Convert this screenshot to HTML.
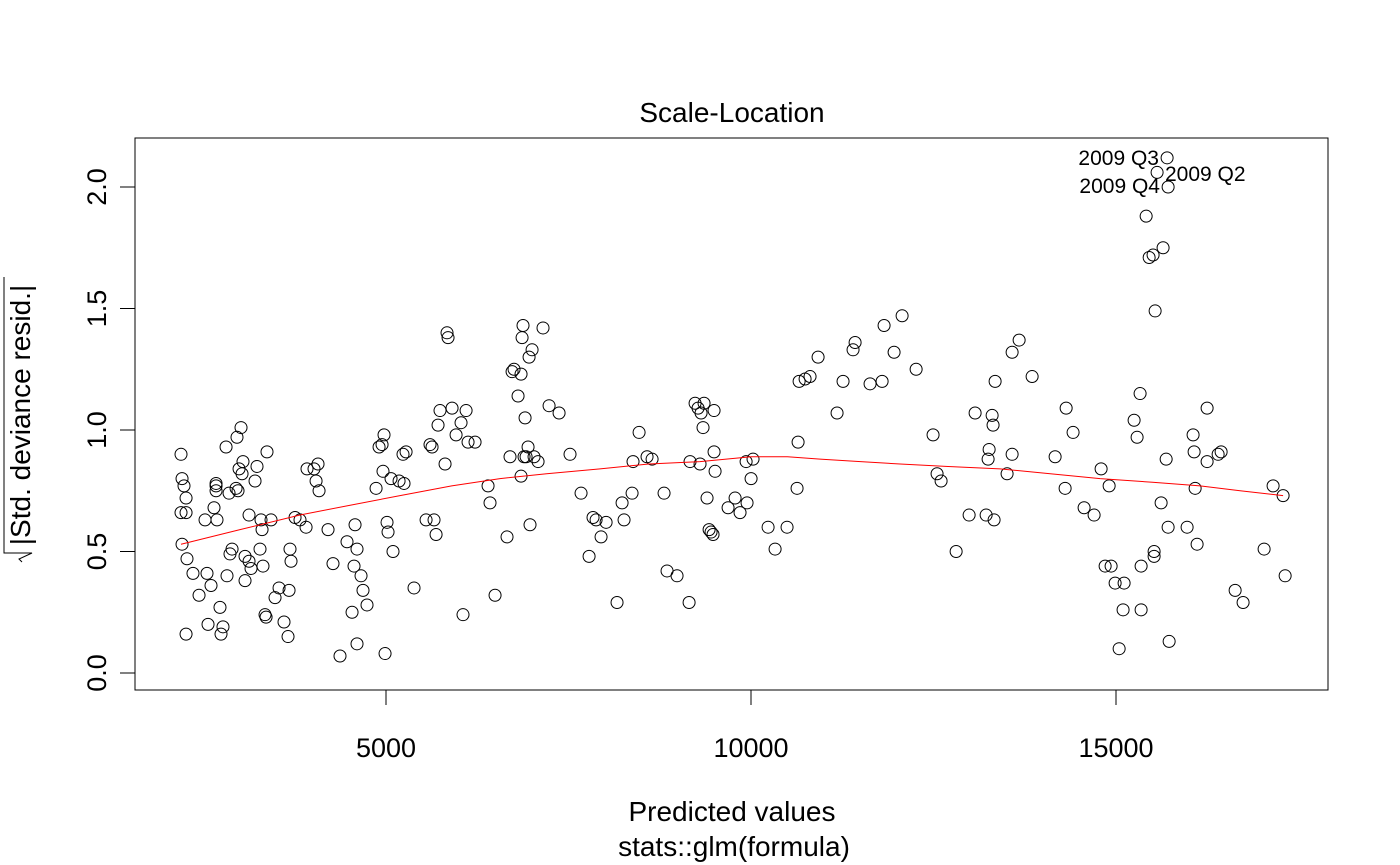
<!DOCTYPE html>
<html><head><meta charset="utf-8"><style>
html,body{margin:0;padding:0;background:#fff;}
svg{display:block;font-family:"Liberation Sans",Arial,sans-serif;}
</style></head><body>
<svg id="chart" width="1400" height="865" viewBox="0 0 1400 865">
<rect x="135" y="138" width="1193" height="552" fill="none" stroke="#000" stroke-width="1"/>
<text x="732" y="122" font-size="28" text-anchor="middle">Scale-Location</text>
<text x="732" y="821" font-size="28" text-anchor="middle">Predicted values</text>
<text x="734" y="856" font-size="28" text-anchor="middle">stats::glm(formula)</text>
<g transform="translate(30,415) rotate(-90)">
<text x="0" y="0" font-size="28" text-anchor="middle">|Std. deviance resid.|</text>
<path d="M-147,-8 L-144,-11 L-138,2 L-138,-26 L138,-26" fill="none" stroke="#000" stroke-width="1"/>
</g>
<g id="xaxis"></g>
<g id="yaxis"></g>
<g id="points"></g>
<g id="smooth"></g>
<g font-size="21">
<text x="1159" y="165" text-anchor="end">2009 Q3</text>
<text x="1165" y="181" text-anchor="start">2009 Q2</text>
<text x="1160" y="193" text-anchor="end">2009 Q4</text>
</g>
</svg>
<script>
const predicted = [2192,2206,2233,2192,2206,2261,2261,2274,2261,2356,2439,2521,2548,2562,2603,2644,2672,2672,2685,2672,2726,2740,2767,2809,2822,2850,2863,2891,2946,2959,2973,2987,3014,3028,3041,3069,3069,3124,3124,3151,3206,3233,3274,3288,3302,3315,3343,3357,3370,3425,3480,3535,3603,3658,3672,3685,3699,3754,3822,3905,3918,4014,4042,4069,4083,4206,4274,4370,4466,4535,4562,4576,4603,4603,4658,4685,4740,4864,4905,4946,4959,4973,4987,5014,5028,5069,5096,5179,5233,5247,5275,5384,5549,5603,5631,5658,5686,5713,5740,5809,5836,5850,5905,5960,6028,6055,6097,6124,6220,6398,6425,6494,6658,6699,6727,6754,6809,6850,6850,6864,6877,6891,6905,6919,6946,6960,6973,7001,7028,7083,7151,7234,7371,7521,7672,7782,7836,7878,7946,8015,8165,8234,8261,8371,8384,8467,8576,8645,8809,8850,8987,9152,9165,9234,9275,9302,9316,9343,9357,9398,9426,9453,9480,9494,9494,9508,9686,9782,9850,9933,9946,10001,10028,10234,10330,10494,10631,10645,10659,10741,10809,10919,11179,11261,11398,11426,11631,11796,11823,11960,12070,12262,12494,12549,12604,12810,12988,13070,13221,13248,13262,13303,13316,13330,13344,13508,13577,13577,13673,13851,14166,14303,14317,14412,14563,14700,14796,14851,14906,14933,14988,15043,15097,15111,15248,15289,15330,15344,15344,15413,15454,15508,15522,15522,15536,15563,15618,15645,15687,15700,15714,15714,15728,15974,16056,16070,16084,16111,16248,16248,16399,16440,16632,16741,17029,17152,17289,17317];
const sqrtResid = [0.90,0.80,0.77,0.66,0.53,0.72,0.66,0.47,0.16,0.41,0.32,0.63,0.41,0.20,0.36,0.68,0.78,0.77,0.63,0.75,0.27,0.16,0.19,0.93,0.40,0.74,0.49,0.51,0.76,0.97,0.75,0.84,1.01,0.82,0.87,0.38,0.48,0.65,0.46,0.43,0.79,0.85,0.51,0.63,0.59,0.44,0.24,0.23,0.91,0.63,0.31,0.35,0.21,0.15,0.34,0.51,0.46,0.64,0.63,0.60,0.84,0.84,0.79,0.86,0.75,0.59,0.45,0.07,0.54,0.25,0.44,0.61,0.51,0.12,0.40,0.34,0.28,0.76,0.93,0.94,0.83,0.98,0.08,0.62,0.58,0.80,0.50,0.79,0.90,0.78,0.91,0.35,0.63,0.94,0.93,0.63,0.57,1.02,1.08,0.86,1.40,1.38,1.09,0.98,1.03,0.24,1.08,0.95,0.95,0.77,0.70,0.32,0.56,0.89,1.24,1.25,1.14,1.23,0.81,1.38,1.43,0.89,1.05,0.89,0.93,1.30,0.61,1.33,0.89,0.87,1.42,1.10,1.07,0.90,0.74,0.48,0.64,0.63,0.56,0.62,0.29,0.70,0.63,0.74,0.87,0.99,0.89,0.88,0.74,0.42,0.40,0.29,0.87,1.11,1.09,0.86,1.07,1.01,1.11,0.72,0.59,0.58,0.57,0.91,1.08,0.83,0.68,0.72,0.66,0.87,0.70,0.80,0.88,0.60,0.51,0.60,0.76,0.95,1.20,1.21,1.22,1.30,1.07,1.20,1.33,1.36,1.19,1.20,1.43,1.32,1.47,1.25,0.98,0.82,0.79,0.50,0.65,1.07,0.65,0.88,0.92,1.06,1.02,0.63,1.20,0.82,0.90,1.32,1.37,1.22,0.89,0.76,1.09,0.99,0.68,0.65,0.84,0.44,0.77,0.44,0.37,0.10,0.26,0.37,1.04,0.97,1.15,0.44,0.26,1.88,1.71,1.72,0.50,0.48,1.49,2.06,0.70,1.75,0.88,2.12,2.00,0.60,0.13,0.60,0.98,0.91,0.76,0.53,1.09,0.87,0.90,0.91,0.34,0.29,0.51,0.77,0.73,0.40];
const smoothX = [2192,3000,3822,4500,5192,5900,6562,7200,7932,8600,9302,10001,10500,10946,11500,12042,12700,13412,14100,14782,15500,16152,16700,17289];
const smoothY = [0.53,0.59,0.65,0.69,0.73,0.77,0.80,0.82,0.84,0.86,0.87,0.89,0.89,0.88,0.87,0.86,0.85,0.84,0.82,0.80,0.785,0.77,0.75,0.73];
const xTicks = [5000,10000,15000];
const xTickLabels = ["5000","10000","15000"];
const yTicks = [0,0.5,1,1.5,2];
const yTickLabels = ["0.0","0.5","1.0","1.5","2.0"];

const NS = "http://www.w3.org/2000/svg";
function sx(v){ return 21 + v*0.073; }
function sy(v){ return 673 - v*243; }
function mk(tag, attrs, parent){ const e=document.createElementNS(NS,tag); for(const k in attrs) e.setAttribute(k,attrs[k]); parent.appendChild(e); return e; }

const xg=document.getElementById('xaxis');
const xl=mk('line',{x1:sx(xTicks[0]),x2:sx(xTicks[xTicks.length-1]),y1:690,y2:690,stroke:'#000'},xg);


xTicks.forEach((t,i)=>{
  const l=mk('line',{x1:sx(t),x2:sx(t),y1:690,y2:705,stroke:'#000'},xg);
  
  
  const tx=mk('text',{x:sx(t),y:757,'font-size':27,'text-anchor':'middle'},xg);
  tx.textContent=xTickLabels[i];
  
  
});
const yg=document.getElementById('yaxis');
const yl=mk('line',{x1:135,x2:135,y1:sy(yTicks[0]),y2:sy(yTicks[yTicks.length-1]),stroke:'#000'},yg);


yTicks.forEach((t,i)=>{
  const l=mk('line',{x1:120,x2:135,y1:sy(t),y2:sy(t),stroke:'#000'},yg);
  
  
  const tx=mk('text',{x:0,y:0,'font-size':27,'text-anchor':'middle',transform:`translate(106,${sy(t)}) rotate(-90)`},yg);
  tx.textContent=yTickLabels[i];
  
  
});
const pg=document.getElementById('points');
predicted.forEach((p,i)=>{
  const c=mk('circle',{cx:sx(p),cy:sy(sqrtResid[i]),r:6,fill:'none',stroke:'#000','stroke-width':1},pg);
  
  
});
const sg=document.getElementById('smooth');
const pl=mk('polyline',{points:smoothX.map((x,i)=>sx(x)+','+sy(smoothY[i])).join(' '),fill:'none',stroke:'#ff0000','stroke-width':1},sg);


</script>
</body></html>
